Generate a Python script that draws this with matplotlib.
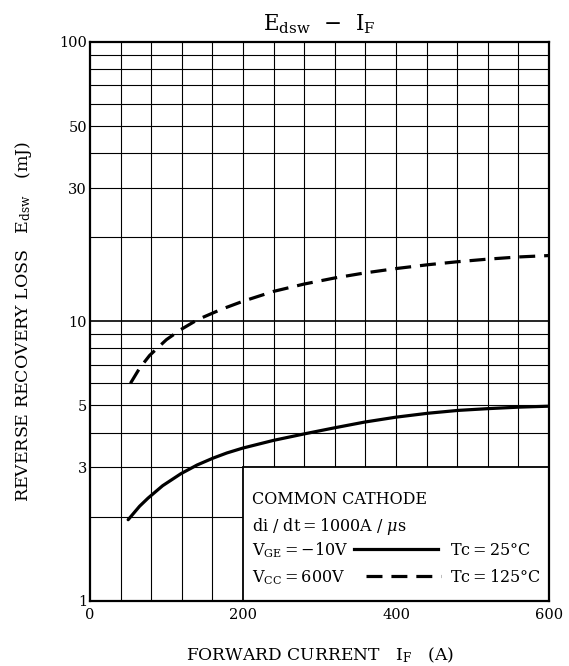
import numpy as np
import matplotlib.pyplot as plt
from matplotlib.patches import Rectangle
from matplotlib.lines import Line2D

plt.rcParams['font.family'] = ['DejaVu Serif']
plt.rcParams['mathtext.fontset'] = 'dejavuserif'

# forward current (A) and reverse recovery loss (mJ)
if_25 = [50, 65, 76, 95, 119, 140, 161, 179, 200, 240, 281, 320, 359, 400, 442, 481, 520, 560, 600]
edsw_25 = [1.95, 2.18, 2.33, 2.58, 2.85, 3.06, 3.24, 3.38, 3.52, 3.75, 3.96, 4.16, 4.36, 4.54, 4.69,
           4.80, 4.87, 4.93, 4.97]

if_125 = [53, 65, 78, 100, 119, 141, 172, 200, 240, 280, 320, 359, 400, 442, 481, 520, 560, 600]
edsw_125 = [6.0, 6.8, 7.55, 8.6, 9.35, 10.15, 11.05, 11.8, 12.8, 13.6, 14.3, 14.9, 15.45, 15.95,
            16.35, 16.7, 17.0, 17.2]

xticks = [0, 200, 400, 600]
yticks = [1, 3, 5, 10, 30, 50, 100]

fig = plt.figure(figsize=(5.69, 6.66), dpi=100)
ax = fig.add_axes([0.158, 0.098, 0.807, 0.839])

ax.set_xlim(0, 600)
ax.set_yscale('log')
ax.set_ylim(1, 100)

# grid: every 40 A, log minor lines
for x in np.arange(40, 600, 40):
    ax.axvline(x, color='black', lw=0.8, zorder=1)
for dec in [1, 10]:
    for m in range(2, 10):
        ax.axhline(m * dec, color='black', lw=0.8, zorder=1)
ax.axhline(10, color='black', lw=1.2, zorder=1)

ax.plot(if_25, edsw_25, color='black', lw=2.3, zorder=4, solid_capstyle='round',
        solid_joinstyle='round')
ax.plot(if_125, edsw_125, color='black', lw=2.3, dashes=(5, 2.8), zorder=4)

ax.set_xticks(xticks)
ax.set_xticklabels([str(t) for t in xticks])
ax.set_yticks(yticks)
ax.set_yticklabels([str(t) for t in yticks])
ax.yaxis.set_minor_locator(plt.NullLocator())
ax.tick_params(length=0, labelsize=10.5, pad=5)
ax.tick_params(axis='y', pad=2)

for s in ax.spines.values():
    s.set_linewidth(1.6)
    s.set_zorder(6)

# condition box
box = Rectangle((200, 1), 400, 2, facecolor='white', edgecolor='black', lw=1.3, zorder=5)
ax.add_patch(box)

tr = ax.transAxes
fs = 11.5
ax.text(0.352, 0.182, 'COMMON CATHODE', transform=tr, fontsize=fs, va='center', zorder=7)
ax.text(0.352, 0.133, r'di / dt$=$1000A / $\mu$s', transform=tr, fontsize=fs, va='center', zorder=7)
ax.text(0.352, 0.090, r'V$_{\mathrm{GE}}$$=-$10V', transform=tr, fontsize=fs, va='center', zorder=7)
ax.text(0.352, 0.041, r'V$_{\mathrm{CC}}$$=$600V', transform=tr, fontsize=fs, va='center', zorder=7)
ax.text(0.784, 0.090, r'Tc$=$25°C', transform=tr, fontsize=fs, va='center', zorder=7)
ax.text(0.784, 0.041, r'Tc$=$125°C', transform=tr, fontsize=fs, va='center', zorder=7)
ax.add_line(Line2D([0.575, 0.758], [0.093, 0.093], transform=tr, color='black', lw=2.3, zorder=7))
ax.add_line(Line2D([0.601, 0.765], [0.044, 0.044], transform=tr, color='black', lw=2.3,
                   dashes=(5, 2.8), zorder=7))

ax.set_title(r'E$_{\mathrm{dsw}}$  $-$  I$_{\mathrm{F}}$', fontsize=15.5, pad=8)
ax.set_xlabel(r'FORWARD CURRENT   I$_{\mathrm{F}}$   (A)', fontsize=12.3, labelpad=17)
ax.set_ylabel(r'REVERSE RECOVERY LOSS   E$_{\mathrm{dsw}}$   (mJ)', fontsize=12.5, labelpad=18)

fig.savefig('out.png', dpi=100)
